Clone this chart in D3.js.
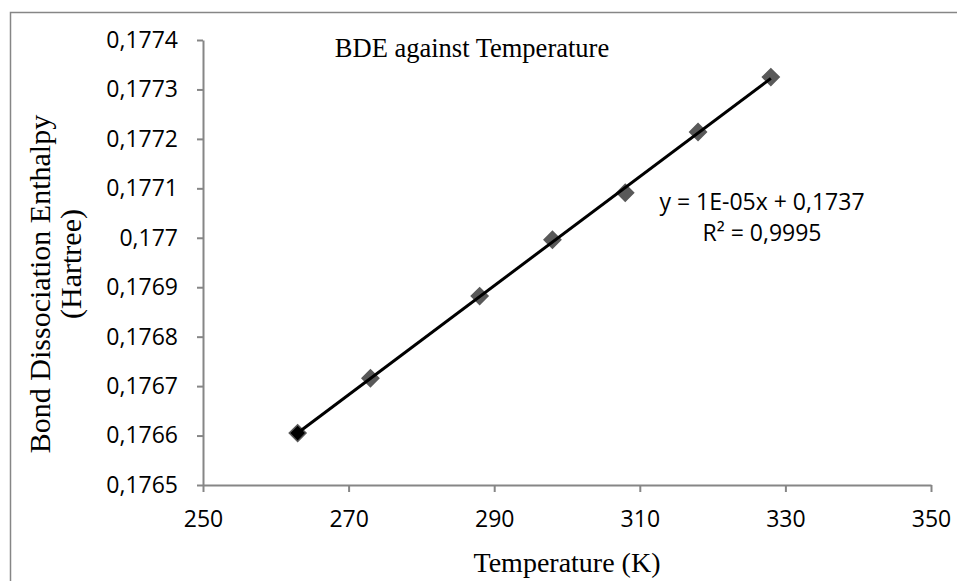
<!DOCTYPE html>
<html>
<head>
<meta charset="utf-8">
<script src="https://cdn.jsdelivr.net/npm/d3@7"></script>
<style>
  body { margin: 0; background: #fff; }
  svg { display: block; }
</style>
</head>
<body>
<div id="chart"></div>
<script>
// data
var temperatures = [263, 273, 288, 298, 308, 318, 328];
var bdeValues = [0.176605, 0.176716, 0.176882, 0.176996, 0.177091, 0.177214, 0.177325];
var xTicks = [250, 270, 290, 310, 330, 350];
var yTicks = [0.1765, 0.1766, 0.1767, 0.1768, 0.1769, 0.177, 0.1771, 0.1772, 0.1773, 0.1774];
var equationLines = ["y = 1E-05x + 0,1737", "R\u00b2 = 0,9995"];

var width = 957, height = 581;
var axisColor = "#868686";
var serif = "'Liberation Serif', 'Times New Roman', serif";
var sans = "'Open Sans', 'Noto Sans', sans-serif";

var svg = d3.select("#chart").append("svg")
  .attr("width", width)
  .attr("height", height);

// outer chart border (runs off the right and bottom edges)
svg.append("rect")
  .attr("x", 10.5).attr("y", 12.5)
  .attr("width", 1200).attr("height", 1200)
  .attr("fill", "none")
  .attr("stroke", axisColor)
  .attr("stroke-width", 1.5);

//////// SCALES ////////
var x = d3.scaleLinear().domain([250, 350]).range([203, 931]);
var y = d3.scaleLinear().domain([0.1765, 0.1774]).range([485, 40]);

function fmtY(d) { return d3.format(".4~f")(d).replace(".", ","); }

//////// AXES ////////
var gx = svg.append("g")
  .attr("transform", "translate(0," + y(0.1765) + ")")
  .call(d3.axisBottom(x).tickValues(xTicks).tickSize(7).tickSizeOuter(0).tickPadding(19));

var gy = svg.append("g")
  .attr("transform", "translate(" + x(250) + ",0)")
  .call(d3.axisLeft(y).tickValues(yTicks).tickSize(6).tickSizeOuter(0).tickPadding(19).tickFormat(fmtY));

[gx, gy].forEach(function(g) {
  g.select(".domain").attr("stroke", axisColor).attr("stroke-width", 2);
  g.selectAll(".tick line").attr("stroke", axisColor).attr("stroke-width", 2);
  g.selectAll(".tick text")
    .attr("fill", "#000")
    .style("font-family", sans)
    .style("font-size", "23px");
});

//////// TREND LINE ////////
var mx = d3.mean(temperatures), my = d3.mean(bdeValues);
var sxy = d3.sum(temperatures, function(t, i) { return (t - mx) * (bdeValues[i] - my); });
var sxx = d3.sum(temperatures, function(t) { return (t - mx) * (t - mx); });
var slope = sxy / sxx, intercept = my - slope * mx;
var xExtent = d3.extent(temperatures);

//////// MARKERS ////////
var points = temperatures.map(function(t, i) { return { t: t, v: bdeValues[i], i: i }; });
var diamond = d3.symbol().type(d3.symbolSquare).size(140);

svg.append("g").selectAll("path")
  .data(points).enter().append("path")
  .attr("d", diamond)
  .attr("transform", function(d) { return "translate(" + x(d.t) + "," + y(d.v) + ") rotate(45)"; })
  .attr("fill", function(d) { return d.i === 0 ? "#000" : "#595959"; })
  .attr("stroke", "#595959")
  .attr("stroke-width", 1.5);

svg.append("line")
  .attr("x1", x(xExtent[0])).attr("y1", y(intercept + slope * xExtent[0]))
  .attr("x2", x(xExtent[1])).attr("y2", y(intercept + slope * xExtent[1]))
  .attr("stroke", "#000")
  .attr("stroke-width", 3);

//////// TEXTS ////////
svg.append("text")
  .attr("x", 472).attr("y", 57)
  .attr("text-anchor", "middle")
  .style("font-family", serif)
  .style("font-size", "26.5px")
  .text("BDE against Temperature");

svg.append("text")
  .attr("x", 567).attr("y", 572)
  .attr("text-anchor", "middle")
  .style("font-family", serif)
  .style("font-size", "28px")
  .text("Temperature (K)");

svg.append("text")
  .attr("transform", "translate(50,284) rotate(-90)")
  .attr("text-anchor", "middle")
  .style("font-family", serif)
  .style("font-size", "30px")
  .text("Bond Dissociation Enthalpy");

svg.append("text")
  .attr("transform", "translate(81,264) rotate(-90)")
  .attr("text-anchor", "middle")
  .style("font-family", serif)
  .style("font-size", "30px")
  .text("(Hartree)");

svg.append("g").selectAll("text")
  .data(equationLines).enter().append("text")
  .attr("x", 762)
  .attr("y", function(d, i) { return 210 + i * 31; })
  .attr("text-anchor", "middle")
  .style("font-family", sans)
  .style("font-size", "23px")
  .text(function(d) { return d; });
</script>
</body>
</html>
